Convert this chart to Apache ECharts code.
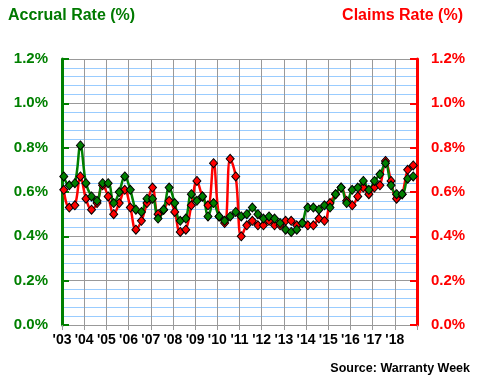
<!DOCTYPE html>
<html>
<head>
<meta charset="utf-8">
<script src="https://cdn.jsdelivr.net/npm/echarts@6/dist/echarts.min.js"></script>
<style>
html,body{margin:0;padding:0;background:#fff;}
#c{width:480px;height:380px;}
</style>
</head>
<body>
<div id="c"></div>
<script>
// Quarterly data, Q1 2003 .. Q4 2018
var startYear = 2003;
var yearTicks = ["'03","'04","'05","'06","'07","'08","'09","'10","'11","'12","'13","'14","'15","'16","'17","'18"];
var accrualRate = [
  0.67,0.63,0.64,0.81, 0.64,0.58,0.56,0.64, 0.64,0.55,0.60,0.67, 0.61,0.52,0.51,0.57,
  0.57,0.48,0.52,0.62, 0.55,0.47,0.48,0.59, 0.56,0.58,0.49,0.55, 0.49,0.47,0.49,0.51,
  0.49,0.50,0.53,0.50, 0.48,0.49,0.48,0.46, 0.43,0.42,0.43,0.46, 0.53,0.53,0.52,0.54,
  0.53,0.59,0.62,0.55, 0.61,0.62,0.65,0.61, 0.65,0.68,0.73,0.63, 0.59,0.59,0.66,0.67
];
var claimsRate = [
  0.61,0.53,0.54,0.67, 0.57,0.52,0.55,0.63, 0.58,0.50,0.55,0.61, 0.53,0.43,0.47,0.55,
  0.62,0.50,0.52,0.56, 0.51,0.42,0.43,0.54, 0.65,0.58,0.54,0.73, 0.49,0.46,0.75,0.67,
  0.40,0.45,0.47,0.45, 0.45,0.47,0.45,0.45, 0.47,0.47,0.45,0.46, 0.45,0.45,0.48,0.47,
  0.55,0.59,0.62,0.56, 0.54,0.58,0.62,0.59, 0.62,0.63,0.74,0.65, 0.57,0.59,0.70,0.72
];

function toPoints(arr){
  return arr.map(function(v,i){ return [startYear + i/4 + 0.08, v]; });
}

var chart = echarts.init(document.getElementById('c'), null, {renderer:'canvas'});
var font = 'Liberation Sans, Arial, sans-serif';

function yAxis(pos, color){
  return {
    type:'value', position:pos, min:0, max:1.2, interval:0.2,
    axisLine:{show:true, onZero:false, lineStyle:{color:color, width:3}},
    axisTick:{show:true, inside:true, length:7, lineStyle:{color:color, width:2}},
    axisLabel:{color:color, fontFamily:font, fontWeight:'bold', fontSize:15, margin:14,
      formatter:function(v){ return v.toFixed(1)+'%'; }},
    splitLine:{show: pos==='left', lineStyle:{color:'#999999', width:1}},
    minorTick:{show:false, splitNumber:5},
    minorSplitLine:{show: pos==='left', lineStyle:{color:'#99ccff', width:1}}
  };
}

chart.setOption({
  animation:false,
  backgroundColor:'#ffffff',
  grid:{left:62, right:63, top:59, bottom:55, containLabel:false},
  title:[
    {text:'Accrual Rate (%)', left:8, top:8, padding:0, textStyle:{color:'#007a00', fontFamily:font, fontWeight:'bold', fontSize:16}},
    {text:'Claims Rate (%)', right:17, top:8, padding:0, textStyle:{color:'#ff0000', fontFamily:font, fontWeight:'bold', fontSize:16}},
    {text:'Source: Warranty Week', right:10, top:362, padding:0, textStyle:{color:'#000000', fontFamily:font, fontWeight:'bold', fontSize:12.5}}
  ],
  xAxis:{
    type:'value', min:2003, max:2019, interval:1,
    axisLine:{show:true, onZero:false, lineStyle:{color:'#999999', width:1}},
    axisTick:{show:true, length:5, lineStyle:{color:'#999999'}},
    axisLabel:{color:'#000', fontFamily:font, fontWeight:'bold', fontSize:14, margin:8,
      formatter:function(v){ var k = Math.round(v) - startYear; return yearTicks[k] || ''; }},
    splitLine:{show:true, lineStyle:{color:'#999999', width:1}}
  },
  yAxis:[ yAxis('left','#008000'), yAxis('right','#ff0000') ],
  series:[
    {
      name:'Claims Rate', type:'line', yAxisIndex:1, data:toPoints(claimsRate),
      smooth:0.4, symbol:'diamond', symbolSize:[8,9],
      lineStyle:{color:'#ff0000', width:2.5},
      itemStyle:{color:'#ff0000', borderColor:'#000', borderWidth:1}
    },
    {
      name:'Accrual Rate', type:'line', yAxisIndex:0, data:toPoints(accrualRate),
      smooth:0.4, symbol:'diamond', symbolSize:[8,9],
      lineStyle:{color:'#008000', width:2.5},
      itemStyle:{color:'#008000', borderColor:'#000', borderWidth:1}
    }
  ]
});
</script>
</body>
</html>
